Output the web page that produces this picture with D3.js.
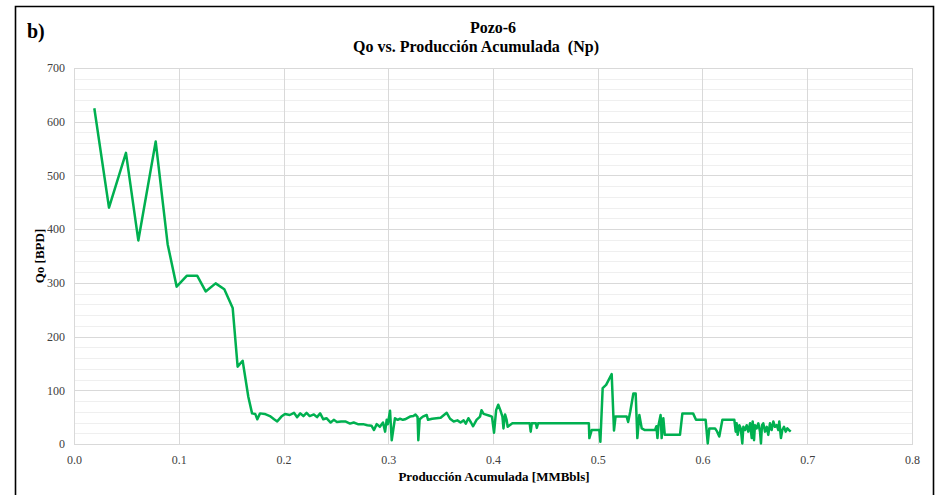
<!DOCTYPE html>
<html><head><meta charset="utf-8">
<script src="https://cdn.jsdelivr.net/npm/d3@7"></script>
<style>html,body{margin:0;padding:0;background:#fff;}svg{display:block;} svg text{font-family:"Liberation Serif","Times New Roman",serif;}</style>
</head><body>
<div id="chart"></div>
<script>
const titleLines = ["Pozo-6", "Qo vs. Producción Acumulada\u00a0\u00a0(Np)"];
const panelLabel = "b)";
const xAxisTitle = "Producción Acumulada [MMBbls]";
const yAxisTitle = "Qo [BPD]";
const xTicks = [0, 0.1, 0.2, 0.3, 0.4, 0.5, 0.6, 0.7, 0.8];
const yTicks = [0, 100, 200, 300, 400, 500, 600, 700];
const yMinorTicks = d3.range(0, 701, 20);

const np = [
0.0194,0.0334,0.0496,0.0614,0.078,0.0894,0.098,0.1076,0.1177,0.1257,0.1352,0.1435,0.1515,0.1562,0.161,0.1664,0.170,0.173,0.175,0.1776,
0.182,0.187,0.191,0.194,0.198,0.2014,0.206,0.21,0.213,0.216,0.219,0.222,0.225,0.229,0.232,0.235,0.238,0.241,0.245,0.248,
0.251,0.255,0.259,0.2635,0.267,0.271,0.276,0.28,0.284,0.2864,0.289,0.292,0.295,0.297,0.2985,0.2996,0.3017,0.3033,0.3064,0.309,
0.3112,0.314,0.316,0.3208,0.324,0.326,0.328,0.3287,0.330,0.333,0.3367,0.338,0.342,0.346,0.350,0.3558,0.359,0.3625,0.366,0.369,
0.372,0.374,0.3765,0.379,0.381,0.3843,0.3876,0.389,0.391,0.396,0.399,0.401,0.403,0.405,0.407,0.409,0.410,0.4115,0.413,0.414,
0.4185,0.435,0.436,0.437,0.441,0.4418,0.443,0.4915,0.492,0.4942,0.5015,0.5025,0.5047,0.508,0.5133,0.5155,0.517,0.5276,0.529,0.531,
0.534,0.5362,0.5378,0.5397,0.542,0.545,0.5547,0.556,0.557,0.558,0.560,0.561,0.5626,0.564,0.5785,0.5808,0.591,0.5938,0.603,0.605,
0.6065,0.612,0.614,0.616,0.619,0.629,0.6304,0.6317,0.6326,0.6336,0.6352,0.6365,0.638,0.639,0.6406,0.6422,0.6437,0.6454,0.647,0.6479,
0.6492,0.6501,0.6517,0.6533,0.6549,0.6558,0.6568,0.658,0.6597,0.6613,0.6628,0.6644,0.666,0.6676,0.6692,0.6708,0.6724,0.6733,0.6749,0.6762,
0.6778,0.6794,0.681,0.6826,0.6842
];
const qo = [
625,440,542,379,563,372,293,313,313,284,299,288,253,144,155,88,57,56,46,57,
56,52,46,42,51,56,54,58,50,57,52,58,52,55,50,57,46,48,40,45,
41,42,42,38,40,37,37,35,34,26,37,32,40,23,45,37,62,7,48,45,
47,45,46,51,52,55,50,7,46,51,54,45,47,48,49,58,47,42,44,40,
44,38,48,40,33,45,51,63,56,53,51,21,63,73,63,51,29,55,45,32,
38.5,38.5,23,38.5,38.5,30,38.5,38.5,11,26,26,4,104,110,130,25,51,51,41,60,
94,94,11,54,29,26,26,33,11,35,54,11,48,17,17,57,57,45,45,1,
29,29,23,14,45,45,45,23,38.5,17,35,29,1,32,26,35,23,38.5,11,42,
7,35,29,38.5,23,1,35,38.5,23,32,17,38.5,26,42,32,35,26,42,11,26,
32,23,29,26,23
];

const W = 943, H = 495;
const L = 74, R = 912, T = 68, B = 444;
const serif = '"Liberation Serif","Times New Roman",serif';

const svg = d3.select("#chart").append("svg").attr("width", W).attr("height", H);
svg.append("rect").attr("width", W).attr("height", H).attr("fill", "#fff");
svg.append("path").attr("d", `M15.5,${H+2} V6.5 H933.5 V${H+2}`).attr("fill", "none").attr("stroke", "#000").attr("stroke-width", 1.6);

const x = d3.scaleLinear().domain([0, 0.8]).range([L, R]);
const y = d3.scaleLinear().domain([0, 700]).range([B, T]);

svg.append("g").selectAll("line").data(yMinorTicks.filter(v => v % 100 !== 0)).join("line")
  .attr("x1", L).attr("x2", R).attr("y1", d => Math.round(y(d)) + 0.5).attr("y2", d => Math.round(y(d)) + 0.5)
  .attr("stroke", "#efefef").attr("stroke-width", 1);
svg.append("g").selectAll("line").data(yTicks).join("line")
  .attr("x1", L).attr("x2", R).attr("y1", d => Math.round(y(d)) + 0.5).attr("y2", d => Math.round(y(d)) + 0.5)
  .attr("stroke", "#d9d9d9").attr("stroke-width", 1);
svg.append("g").selectAll("line").data(xTicks).join("line")
  .attr("y1", T).attr("y2", B).attr("x1", d => Math.round(x(d)) + 0.5).attr("x2", d => Math.round(x(d)) + 0.5)
  .attr("stroke", "#d9d9d9").attr("stroke-width", 1);
svg.append("rect").attr("x", L + 0.5).attr("y", T + 0.5).attr("width", R - L).attr("height", B - T)
  .attr("fill", "none").attr("stroke", "#d9d9d9").attr("stroke-width", 1);

const xAxis = svg.append("g").attr("transform", `translate(0,${B})`)
  .call(d3.axisBottom(x).tickValues(xTicks).tickFormat(d3.format(".1f")).tickSize(0).tickPadding(11));
const yAxis = svg.append("g").attr("transform", `translate(${L},0)`)
  .call(d3.axisLeft(y).tickValues(yTicks).tickFormat(d3.format("d")).tickSize(0).tickPadding(9));
[xAxis, yAxis].forEach(g => {
  g.attr("font-family", serif).attr("font-size", 12);
  g.select(".domain").remove();
  g.selectAll("text").style("font-family", serif).attr("font-size", 12).attr("fill", "#404040");
});

const pts = np.map((v, i) => [v, qo[i]]);
svg.append("path").datum(pts)
  .attr("d", d3.line().x(d => x(d[0])).y(d => y(d[1])))
  .attr("fill", "none").attr("stroke", "#00b050").attr("stroke-width", 2.5).attr("stroke-linejoin", "round");

function txt(xp, yp, s, size, anchor) {
  return svg.append("text").attr("x", xp).attr("y", yp).attr("text-anchor", anchor)
    .style("font-family", serif).attr("font-weight", "bold").attr("font-size", size).attr("fill", "#000").text(s);
}
txt(493, 33, titleLines[0], 16, "middle");
txt(476, 52, titleLines[1], 16, "middle");
txt(27, 38, panelLabel, 20, "start");
txt(494, 481, xAxisTitle, 13, "middle");
svg.append("text").attr("transform", `translate(44,256) rotate(-90)`).attr("text-anchor", "middle")
  .style("font-family", serif).attr("font-weight", "bold").attr("font-size", 13).text(yAxisTitle);
</script>
</body></html>
